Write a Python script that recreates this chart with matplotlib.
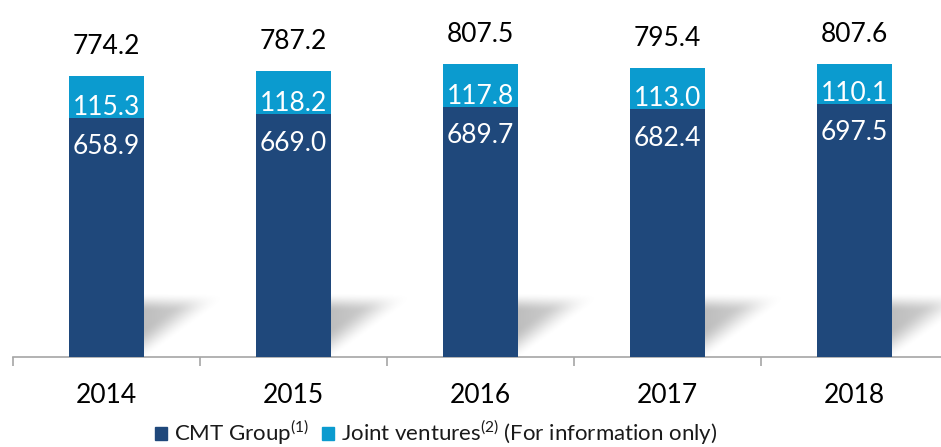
import numpy as np
import matplotlib
matplotlib.use("Agg")
import matplotlib.pyplot as plt
from matplotlib.patches import Patch

# valeurs
years = ["2014", "2015", "2016", "2017", "2018"]
cmt_group = [658.9, 669.0, 689.7, 682.4, 697.5]
joint_ventures = [115.3, 118.2, 117.8, 113.0, 110.1]
totals = [774.2, 787.2, 807.5, 795.4, 807.6]

CMT_COLOR = "#1f487b"
JV_COLOR = "#0b9bcf"
AXIS_COLOR = "#a6a6a6"
BAR_W = 0.4

plt.rcParams["font.family"] = ["Lato", "DejaVu Sans"]
plt.rcParams["mathtext.fontset"] = "custom"
plt.rcParams["mathtext.rm"] = "Lato"


def smooth(a, b, x):
    t = np.clip((x - a) / (b - a), 0, 1)
    return t * t * (3 - 2 * t)


def shadow_img():
    # ombre grise floue posée à droite de chaque barre
    v, u = np.mgrid[0:1:100j, 0:1:140j]
    d = v - u
    a = smooth(-0.05, 0.45, d) * smooth(1.0, 0.7, v) * (1 - 0.55 * u)
    img = np.zeros((100, 140, 4))
    img[..., 3] = a * 0.26
    return img


fig = plt.figure(figsize=(9.41, 4.47), dpi=100)
ax = fig.add_axes([13 / 941, 90 / 447, 935 / 941, 357 / 447])

x = np.arange(len(years))
img = shadow_img()
for i in x:
    ax.imshow(img, extent=(i + BAR_W / 2, i + BAR_W / 2 + 0.48, 0, 178),
              origin="lower", aspect="auto", zorder=1, interpolation="bilinear")

ax.bar(x, cmt_group, BAR_W, color=CMT_COLOR, zorder=3)
ax.bar(x, joint_ventures, BAR_W, bottom=cmt_group, color=JV_COLOR, zorder=3)

for i in x:
    ax.annotate(f"{cmt_group[i]:.1f}", (i, cmt_group[i]), xytext=(0, -21),
                textcoords="offset points", ha="center", va="center",
                color="white", fontsize=19, zorder=4)
    ax.annotate(f"{joint_ventures[i]:.1f}", (i, cmt_group[i]), xytext=(0, 7.5),
                textcoords="offset points", ha="center", va="center",
                color="white", fontsize=19, zorder=4)
    ax.annotate(f"{totals[i]:.1f}", (i, totals[i]), xytext=(0, 21),
                textcoords="offset points", ha="center", va="center",
                color="black", fontsize=19)

ax.set_xlim(-0.5, len(years) - 0.5)
ax.set_ylim(0, 983)

for s in ["top", "right", "left"]:
    ax.spines[s].set_visible(False)
ax.spines["bottom"].set_color(AXIS_COLOR)
ax.spines["bottom"].set_linewidth(1.2)
ax.set_yticks([])
ax.set_xticks(x)
ax.set_xticklabels(years)
ax.set_xticks(np.arange(len(years) + 1) - 0.5, minor=True)
ax.tick_params(axis="x", which="major", length=0, pad=19, labelsize=19)
ax.tick_params(axis="x", which="minor", length=6.5, width=1.2, color=AXIS_COLOR)

handles = [Patch(color=CMT_COLOR), Patch(color=JV_COLOR)]
labels = ["CMT Group$^{(1)}$", "Joint ventures$^{(2)}$ (For information only)"]
fig.legend(handles, labels, loc="center", bbox_to_anchor=(436 / 941, 1 - 433 / 447),
           ncol=2, frameon=False, fontsize=16, handlelength=0.55, handleheight=0.55,
           handletextpad=0.3, columnspacing=0.6, labelcolor="#1a1a1a")

fig.savefig("out.png", dpi=100)
